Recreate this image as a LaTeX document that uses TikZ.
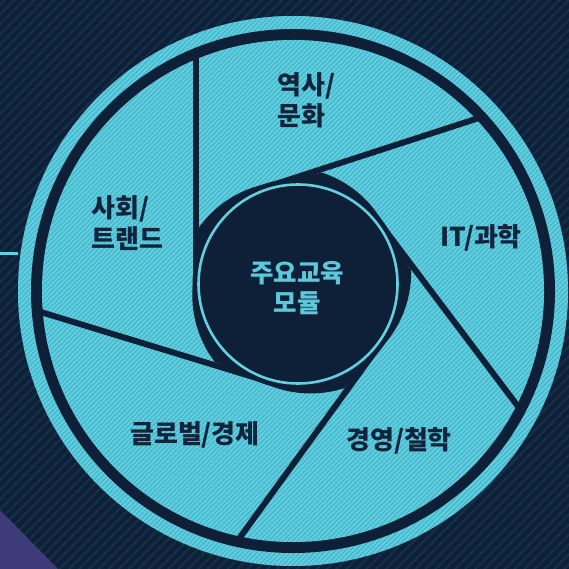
\documentclass[tikz,border=0pt]{standalone}
\usepackage{fontspec}
\setmainfont{Noto Sans CJK KR}
\usetikzlibrary{patterns.meta}
\definecolor{navy}{HTML}{0D2038}
\definecolor{bgstripe}{HTML}{15304A}
\definecolor{aqua}{HTML}{63D0E1}
\definecolor{aquastripe}{HTML}{46B6CA}
\definecolor{labelink}{HTML}{11243B}
\definecolor{coretext}{HTML}{5CC8DA}
\definecolor{purp}{HTML}{3E3B7B}
\begin{document}
\begin{tikzpicture}[x=1pt,y=-1pt,
  aquafill/.style={fill=aqua, postaction={pattern={Lines[angle=45,distance=3.4pt,line width=1.3pt]}, pattern color=aquastripe}},
  lbl/.style={font=\fontsize{26}{31}\selectfont\bfseries, text=labelink, inner sep=0pt},
  corelbl/.style={font=\fontsize{25.5}{30}\selectfont\bfseries, text=coretext, inner sep=0pt, align=center},
  gapline/.style={draw=navy, line width=6pt},
]
\useasboundingbox (0,0) rectangle (569,569);
\fill[navy] (0,0) rectangle (569,569);
\fill[pattern={Lines[angle=45,distance=7pt,line width=2pt]}, pattern color=bgstripe] (0,0) rectangle (569,569);
\fill[purp] (0,510) -- (58,569) -- (0,569) -- cycle;
\coordinate (O) at (293,291);
\coordinate (C) at (298,284);
\node[circle, minimum size=550pt, inner sep=0pt, outer sep=0pt, aquafill] (ring) at (O) {};
\coordinate (lstart) at (0,253.7);
\draw[aqua, line width=2.5pt] (lstart) -- (lstart -| ring.west);
\fill[navy] (O) circle (262);
\path[aquafill] (O) circle (251);
\begin{scope}
  \clip (O) circle (257);
  \begin{scope}[shift={(C)}]
    \foreach \a in {180,107,36,-37,-108}
      \draw[gapline] (\a:102) -- ++({\a+90}:330);
  \end{scope}
\end{scope}
\begin{scope}[shift={(C)}]
  \foreach \a/\b in {180/107, 107/36, 36/-37, -37/-108, -108/-180} {
    \pgfmathsetmacro\spanang{\a-(\b)-30}
    \fill[navy] plot[domain=0:\spanang, samples=25] ({\a-\x}:{105+9*\x/\spanang}) -- (\b:102) -- (0,0) -- cycle;
  }
\end{scope}
\fill[navy] (C) circle (105.5);
\draw[aqua, line width=2.6pt] (C) circle (99.5);
\node[lbl, anchor=west, align=left] (history) at (277,100) {역사/\\문화};
\node[lbl, anchor=west, align=left] (society) at (91,223) {사회/\\트랜드};
\node[lbl] (science) at (481,238) {IT/과학};
\node[lbl] (global) at (195,435) {글로벌/경제};
\node[lbl] (mgmt) at (399,441) {경영/철학};
\node[corelbl] (core) at (297,288) {주요교육\\모듈};
\end{tikzpicture}
\end{document}
